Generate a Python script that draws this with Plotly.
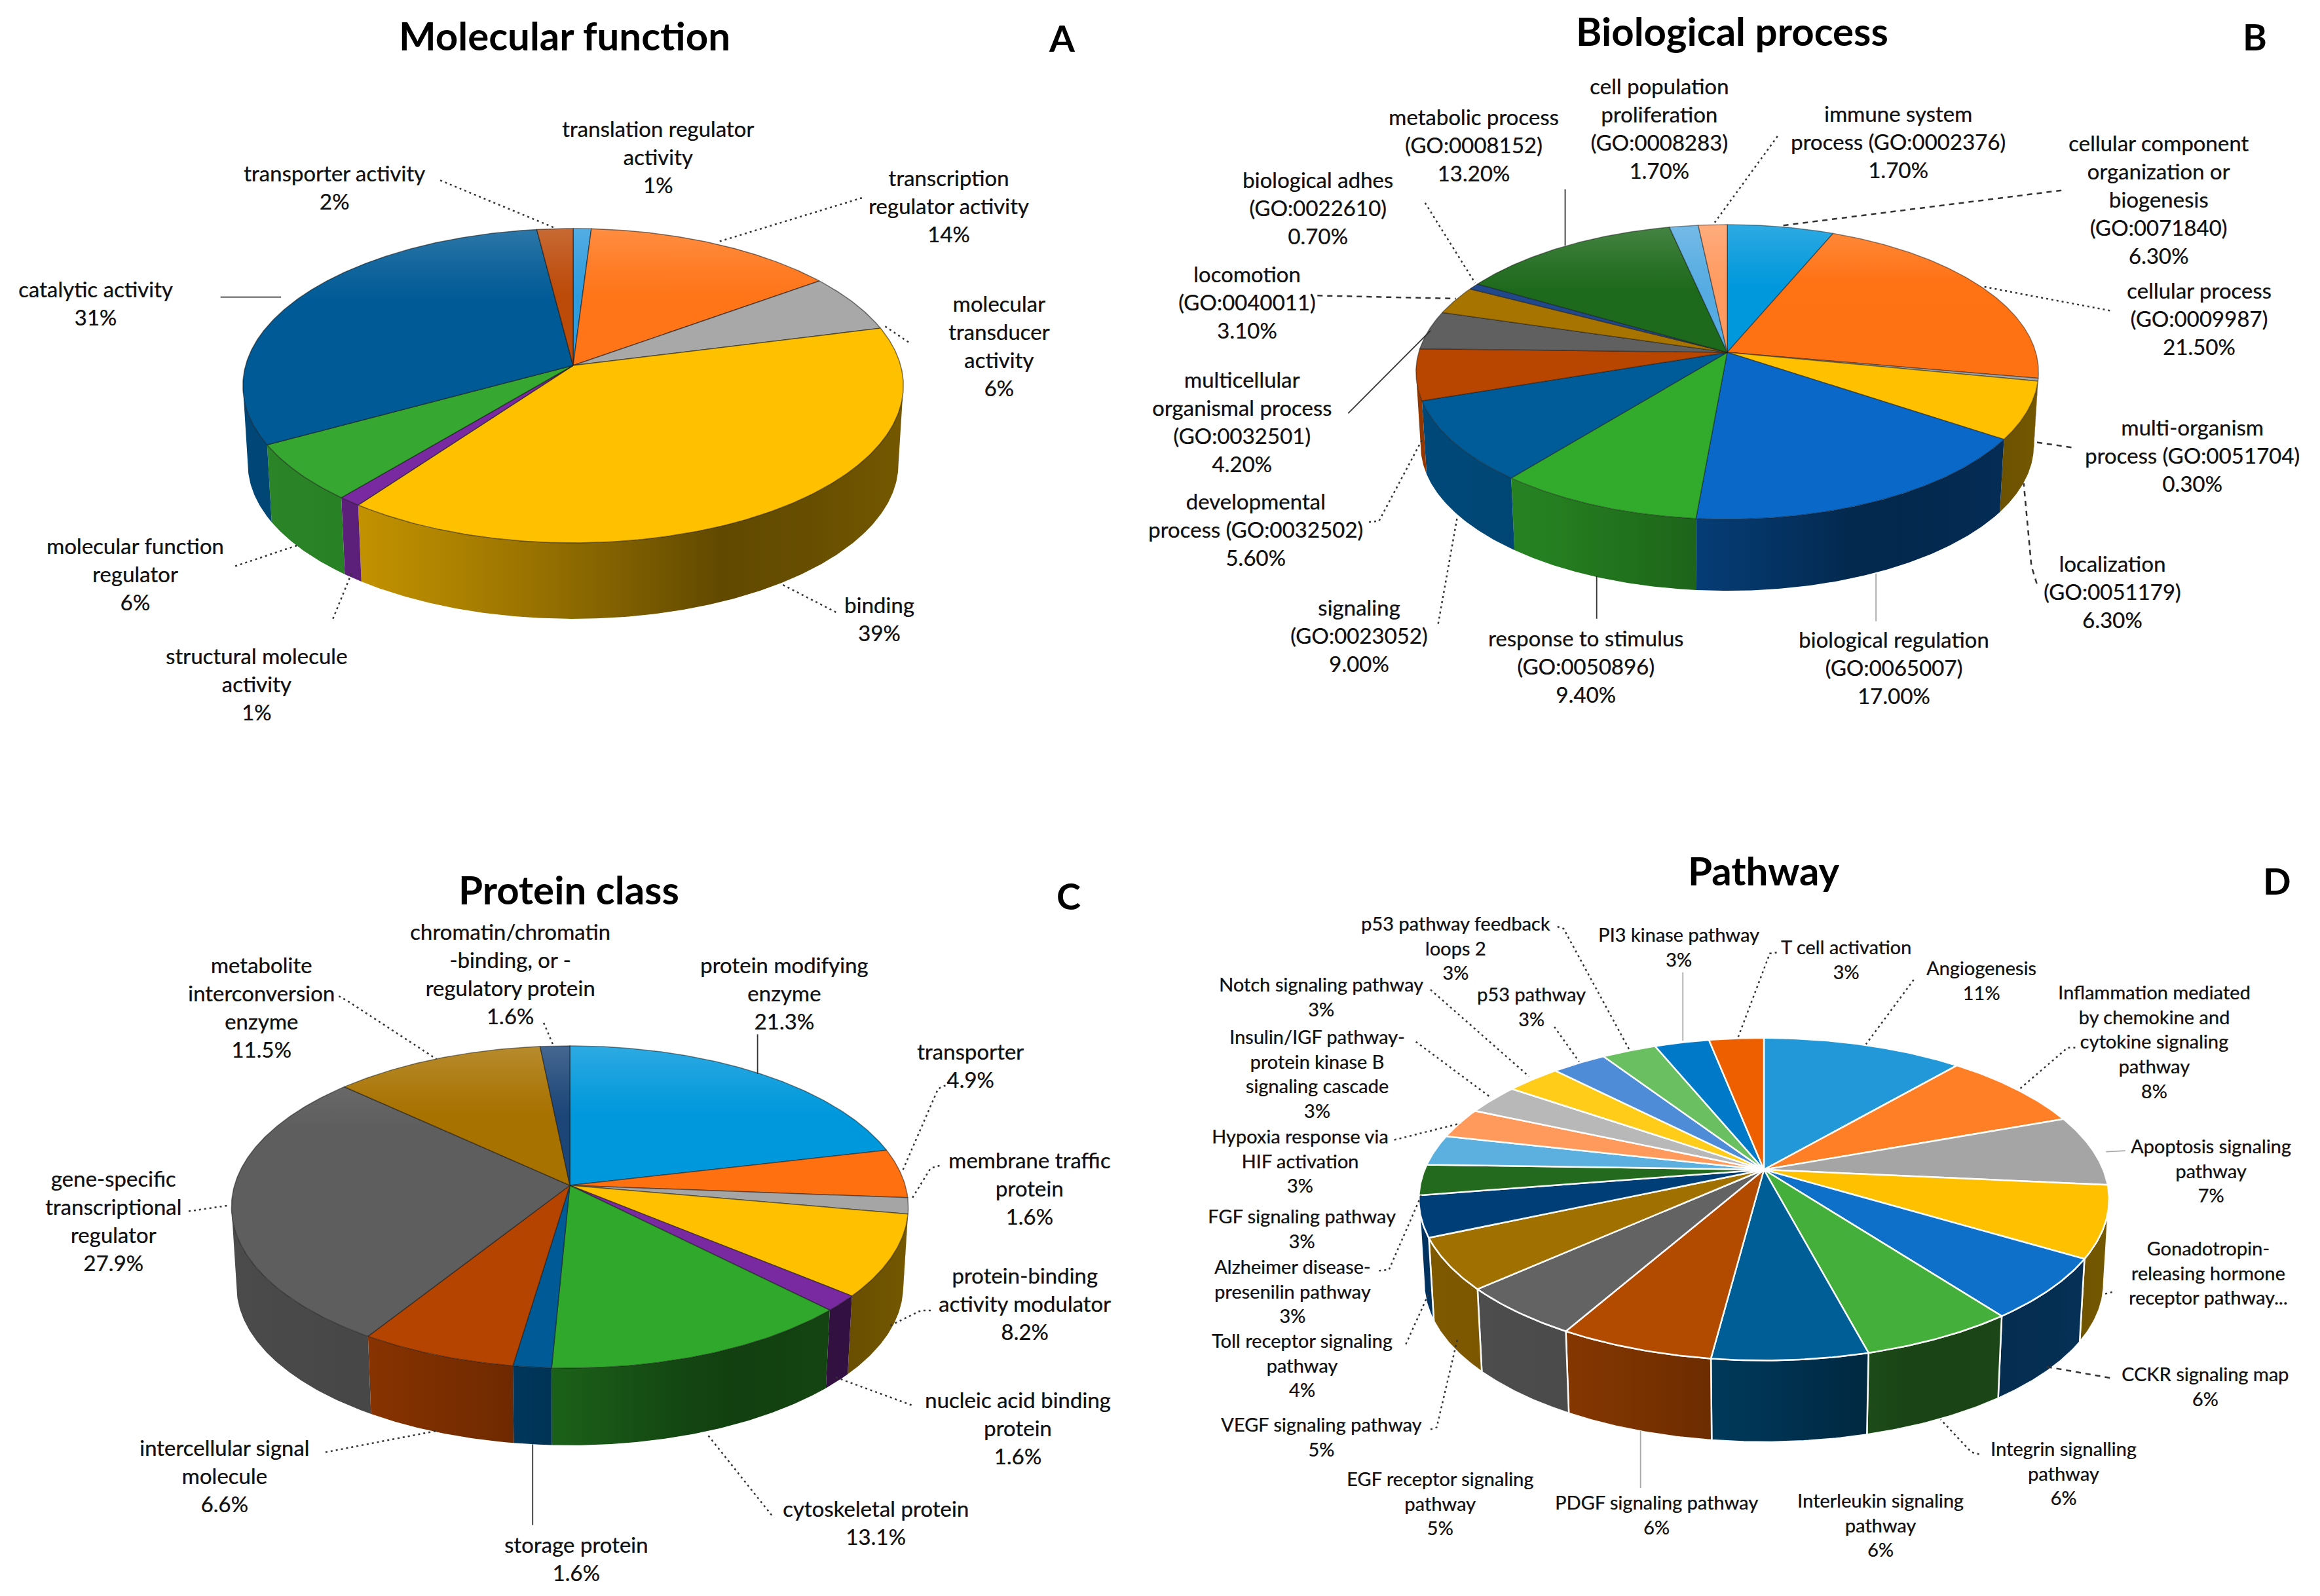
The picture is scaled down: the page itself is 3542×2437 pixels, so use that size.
import math
import plotly.graph_objects as go

# ---------- data ----------
mf_categories = ["translation regulator<br>activity", "transcription<br>regulator activity",
                 "molecular<br>transducer<br>activity", "binding", "structural molecule<br>activity",
                 "molecular function<br>regulator", "catalytic activity", "transporter activity"]
mf_values = [1, 14, 6, 39, 1, 6, 31, 2]

bp_categories = ["cellular component<br>organization or<br>biogenesis<br>(GO:0071840)",
                 "cellular process<br>(GO:0009987)", "multi-organism<br>process (GO:0051704)",
                 "localization<br>(GO:0051179)", "biological regulation<br>(GO:0065007)",
                 "response to stimulus<br>(GO:0050896)", "signaling<br>(GO:0023052)",
                 "developmental<br>process (GO:0032502)", "multicellular<br>organismal process<br>(GO:0032501)",
                 "locomotion<br>(GO:0040011)", "biological adhes<br>(GO:0022610)",
                 "metabolic process<br>(GO:0008152)", "cell population<br>proliferation<br>(GO:0008283)",
                 "immune system<br>process (GO:0002376)"]
bp_values = [6.3, 21.5, 0.3, 6.3, 17.0, 9.4, 9.0, 5.6, 4.2, 3.1, 0.7, 13.2, 1.7, 1.7]

pc_categories = ["protein modifying<br>enzyme", "transporter", "membrane traffic<br>protein",
                 "protein-binding<br>activity modulator", "nucleic acid binding<br>protein",
                 "cytoskeletal protein", "storage protein", "intercellular signal<br>molecule",
                 "gene-specific<br>transcriptional<br>regulator", "metabolite<br>interconversion<br>enzyme",
                 "chromatin/chromatin<br>-binding, or -<br>regulatory protein"]
pc_values = [21.3, 4.9, 1.6, 8.2, 1.6, 13.1, 1.6, 6.6, 27.9, 11.5, 1.6]

pw_categories = ["Angiogenesis", "Inflammation mediated<br>by chemokine and<br>cytokine signaling<br>pathway",
                 "Apoptosis signaling<br>pathway", "Gonadotropin-<br>releasing hormone<br>receptor pathway...",
                 "CCKR signaling map", "Integrin signalling<br>pathway", "Interleukin signaling<br>pathway",
                 "PDGF signaling pathway", "EGF receptor signaling<br>pathway", "VEGF signaling pathway",
                 "Toll receptor signaling<br>pathway", "Alzheimer disease-<br>presenilin pathway",
                 "FGF signaling pathway", "Hypoxia response via<br>HIF activation",
                 "Insulin/IGF pathway-<br>protein kinase B<br>signaling cascade", "Notch signaling pathway",
                 "p53 pathway", "p53 pathway feedback<br>loops 2", "PI3 kinase pathway", "T cell activation"]
pw_values = [11, 8, 7, 7, 6, 6, 6, 6, 5, 5, 4, 3, 3, 3, 3, 3, 3, 3, 3, 3]

# ---------- colours ----------
mf_colors = ["#2E9BDD", "#FF7518", "#A8A8A8", "#FFC000", "#7A2AA0", "#36A832", "#005A96", "#BC4A08"]
bp_colors = ["#0098DC", "#FF7214", "#A5A5A5", "#FFC000", "#0A68C8", "#32AA2C", "#005C98", "#B84600",
             "#606060", "#A87400", "#20488A", "#1E6A1C", "#56ACE2", "#FF9A60"]
pc_colors = ["#0098DC", "#FF7010", "#A5A5A5", "#FFC000", "#7A2AA0", "#30A82C", "#005A96", "#B44400",
             "#5E5E5E", "#A87200", "#1C4678"]
pw_colors = ["#2298D8", "#FF7F27", "#A5A5A5", "#FFC000", "#0E70C8", "#44AF3A", "#005E96", "#B24A00",
             "#636363", "#A07000", "#003E78", "#246A1E", "#5CB0E0", "#FF9A5C", "#B8B8B8", "#FFCC1A",
             "#4F8CD8", "#6ABF60", "#007AC8", "#EE5F00"]

# ---------- layout of the four panels (pixels of the page) ----------
W, H = 3542, 2437
FONT = "Lato"
panels = [
    dict(cats=mf_categories, vals=mf_values, cols=mf_colors, fmt="{:.0f}%", cx=875, cy=558, a=500, b=236, k=0.129,
         depth=120, edge="rgba(20,20,20,0.55)", ew=1.5, fs=33, ox=0, oy=0, fx=1.1295, fy=0.765,
         title="Molecular function", tpos=(763, 70), letter="A", lpos=(1436, 75)),
    dict(cats=bp_categories, vals=bp_values, cols=bp_colors, fmt="{:.2f}%", cx=2637, cy=538, a=471, b=221, k=0.133,
         depth=113, edge="rgba(20,20,20,0.45)", ew=1.5, fs=33, ox=1700, oy=0, fx=1.1747, fy=0.765,
         title="Biological process", tpos=(804, 62), letter="B", lpos=(1483, 73)),
    dict(cats=pc_categories, vals=pc_values, cols=pc_colors, fmt="{:.1f}%", cx=870, cy=1810, a=512, b=241.6, k=0.134,
         depth=122, edge="rgba(20,20,20,0.5)", ew=1.5, fs=33, ox=0, oy=1250, fx=1.1295, fy=0.757,
         title="Protein class", tpos=(769, 143), letter="C", lpos=(1444, 155)),
    dict(cats=pw_categories, vals=pw_values, cols=pw_colors, fmt="{:.0f}%", cx=2693, cy=1786, a=518, b=238, k=0.183,
         depth=129, edge="rgba(255,255,255,0.95)", ew=2.5, fs=29, ox=1700, oy=1250, fx=1.1747, fy=0.757,
         title="Pathway", tpos=(845, 105), letter="D", lpos=(1512, 125)),
]

# label centres, in panel-crop coordinates, in the same order as the categories
label_pos = [
    [(889, 312), (1282, 411), (1350, 690), (1189, 1235), (347, 1365), (183, 1145), (129, 605), (452, 373)],
    [(1358, 397), (1411, 635), (1402, 909), (1298, 1180), (1014, 1332), (614, 1330), (319, 1268), (185, 1056),
     (167, 841), (174, 602), (266, 415), (468, 289), (709, 256), (1020, 282)],
    [(1060, 351), (1312, 497), (1391, 745), (1385, 977), (1376, 1229), (1184, 1420), (779, 1492), (303, 1325),
     (153, 810), (353, 380), (690, 312)],
    [(1128, 326), (1353, 449), (1426, 709), (1423, 915), (1419, 1144), (1235, 1320), (997, 1424), (706, 1403),
     (424, 1380), (270, 1247), (245, 1102), (233, 952), (245, 826), (243, 689), (265, 514), (270, 359),
     (543, 378), (445, 260), (735, 258), (952, 283)],
]
# leader lines: (style, points) in panel-crop coordinates
leaders = [
    [("dot", [(595, 360), (750, 455)]), ("dot", [(1165, 395), (970, 483)]), ("dot", [(1228, 683), (1195, 650)]),
     ("dot", [(1130, 1222), (1055, 1165)]), ("dot", [(450, 1235), (475, 1145)]), ("dot", [(318, 1130), (405, 1087)]),
     ("solid", [(298, 593), (380, 593)])],
    [("dot", [(863, 272), (780, 447)]), ("dash", [(1232, 380), (870, 450)]), ("dot", [(1295, 620), (1130, 572)]),
     ("dash", [(1245, 893), (1200, 883)]), ("dash", [(1200, 1165), (1193, 1130), (1183, 965)]),
     ("gray", [(991, 1240), (991, 1145)]), ("solid", [(628, 1235), (628, 1150)]), ("dot", [(422, 1245), (447, 1030)]),
     ("dot", [(332, 1042), (345, 1040), (402, 875)]), ("solid", [(305, 825), (412, 660)]),
     ("dash", [(265, 590), (445, 596)]), ("dot", [(405, 405), (470, 565)]), ("solid", [(587, 378), (587, 490)])],
    [("dot", [(735, 412), (748, 458)]), ("solid", [(1024, 435), (1024, 515)]),
     ("dot", [(1278, 538), (1268, 545), (1220, 710)]), ("dot", [(1270, 700), (1258, 705), (1232, 768)]),
     ("dot", [(1258, 992), (1245, 992), (1200, 1025)]), ("dot", [(1232, 1183), (1130, 1127)]),
     ("dot", [(1043, 1405), (955, 1240)]), ("solid", [(720, 1425), (720, 1262)]), ("dot", [(440, 1278), (590, 1235)]),
     ("dot", [(255, 792), (310, 780)]), ("dot", [(458, 358), (470, 368), (590, 485)])],
    [("dot", [(862, 270), (853, 272), (812, 440)]), ("gray", [(740, 310), (740, 448)]),
     ("dot", [(577, 218), (585, 222), (670, 465)]), ("dot", [(573, 420), (605, 490)]), ("dot", [(412, 345), (540, 520)]),
     ("dot", [(393, 450), (490, 562)]), ("dot", [(365, 648), (450, 615)]), ("dot", [(345, 912), (358, 910), (400, 760)]),
     ("dot", [(380, 1060), (412, 950)]), ("dot", [(412, 1232), (420, 1228), (447, 1050)]),
     ("gray", [(685, 1350), (685, 1235)]), ("dot", [(1125, 1282), (1115, 1278), (1075, 1212)]),
     ("dash", [(1295, 1128), (1210, 1105)]), ("dot", [(1298, 955), (1285, 960)]), ("gray", [(1315, 670), (1290, 672)]),
     ("dot", [(1250, 462), (1240, 462), (1178, 545)]), ("dot", [(1040, 325), (978, 455)])],
]


def hex_rgb(c):
    return tuple(int(c[i:i + 2], 16) for i in (1, 3, 5))


def shade(c, f):
    return "rgb({},{},{})".format(*[int(min(255, v * f)) for v in hex_rgb(c)])


def tint(c, t):
    return "rgb({},{},{})".format(*[int(v + (255 - v) * t) for v in hex_rgb(c)])


def wall_factor(t):
    pts = [(0, .80), (.2, .76), (.5, .56), (.72, .38), (.93, .42), (1, .46)]
    for (a, fa), (b, fb) in zip(pts, pts[1:]):
        if t <= b:
            return fa + (fb - fa) * (t - a) / (b - a)
    return pts[-1][1]


def project(p, th, drop=0.0, s=1.0):
    u, v = math.sin(th), math.cos(th)
    d = 1 + p["k"] * v
    return p["cx"] + s * p["a"] * u / d, p["cy"] + drop - s * p["b"] * v / d


fig = go.Figure()
annotations = []
LABEL_SHADOW = "0.5px 0 0 rgba(0,0,0,0.55)"

for pi, p in enumerate(panels):
    total = sum(p["vals"])
    edges = [0.0]
    for v in p["vals"]:
        edges.append(edges[-1] + v / total * 2 * math.pi)
    xl = p["cx"] - p["a"] * 1.01
    xw = p["a"] * 2.02
    ytop = p["cy"] - p["b"] / (1 + p["k"])
    yh = p["b"] / (1 + p["k"]) + p["b"] / (1 - p["k"])
    # the wall is visible only between the two silhouette tangents of the disc
    tan_r = math.acos(-p["k"])
    tan_l = 2 * math.pi - tan_r

    # outer walls
    for i, col in enumerate(p["cols"]):
        t0 = max(edges[i], tan_r)
        t1 = min(edges[i + 1], tan_l)
        if t1 <= t0:
            continue
        n = max(4, int((t1 - t0) * 90))
        ths = [t0 + (t1 - t0) * j / n for j in range(n + 1)]
        upper = [project(p, t) for t in ths]
        lower = [project(p, t, p["depth"], 0.985) for t in reversed(ths)]
        ring = upper + lower + [upper[0]]
        xs = [q[0] for q in ring]
        ys = [q[1] for q in ring]
        lo, hi = min(xs), max(xs)
        stops = [[j / 6, shade(col, wall_factor((lo + (hi - lo) * j / 6 - xl) / xw))] for j in range(7)]
        wall_line = dict(color=p["edge"], width=p["ew"]) if pi == 3 else dict(width=0)
        fig.add_trace(go.Scatter(x=xs, y=ys, mode="lines", line=wall_line, fill="toself",
                                 fillgradient=dict(type="horizontal", colorscale=stops, start=lo, stop=hi),
                                 hoverinfo="skip", showlegend=False))

    # top faces
    for i, col in enumerate(p["cols"]):
        n = max(4, int((edges[i + 1] - edges[i]) * 90))
        ths = [edges[i] + (edges[i + 1] - edges[i]) * j / n for j in range(n + 1)]
        ring = [(p["cx"], p["cy"])] + [project(p, t) for t in ths] + [(p["cx"], p["cy"])]
        xs = [q[0] for q in ring]
        ys = [q[1] for q in ring]
        lo, hi = min(ys), max(ys)
        stops = []
        for j in range(7):
            y = lo + (hi - lo) * j / 6
            rel = (y - ytop) / yh
            strength = 0.18 if pi < 3 else 0.0
            stops.append([j / 6, tint(col, max(0.0, strength * (1 - rel / 0.2)))])
        fig.add_trace(go.Scatter(x=xs, y=ys, mode="lines", line=dict(color=p["edge"], width=p["ew"]), fill="toself",
                                 fillgradient=dict(type="vertical", colorscale=stops, start=lo, stop=hi),
                                 hoverinfo="skip", showlegend=False))

    def Z(q):
        return p["ox"] + q[0] * p["fx"], p["oy"] + q[1] * p["fy"]

    # leader lines
    for style, pts in leaders[pi]:
        xy = [Z(q) for q in pts]
        dash = {"dot": "3px,5px", "dash": "8px,7px", "solid": "solid", "gray": "solid"}[style]
        color = {"gray": "#a8a8a8"}.get(style, "#333333")
        width = 2.5 if style in ("dot", "dash") else 1.8
        fig.add_trace(go.Scatter(x=[q[0] for q in xy], y=[q[1] for q in xy], mode="lines",
                                 line=dict(color=color, width=width, dash=dash), hoverinfo="skip", showlegend=False))

    # data labels
    for cat, val, pos in zip(p["cats"], p["vals"], label_pos[pi]):
        text = cat if cat.endswith("...") else cat + "<br>" + p["fmt"].format(val)
        x, y = Z(pos)
        annotations.append(dict(x=x, y=y, text=text, showarrow=False, xanchor="center", yanchor="middle",
                                align="center",
                                font=dict(family=FONT, size=p["fs"], color="#111111", shadow=LABEL_SHADOW)))
    # titles
    x, y = Z(p["tpos"])
    annotations.append(dict(x=x, y=y, text="<b>" + p["title"] + "</b>", showarrow=False, xanchor="center",
                            yanchor="middle", font=dict(family=FONT, size=60, color="#000000")))
    x, y = Z(p["lpos"])
    annotations.append(dict(x=x, y=y, text="<b>" + p["letter"] + "</b>", showarrow=False, xanchor="center",
                            yanchor="middle", font=dict(family=FONT, size=56, color="#000000")))

fig.update_layout(
    width=W, height=H, margin=dict(l=0, r=0, t=0, b=0), paper_bgcolor="white", plot_bgcolor="white",
    xaxis=dict(range=[0, W], visible=False, fixedrange=True),
    yaxis=dict(range=[H, 0], visible=False, fixedrange=True),
    annotations=annotations, showlegend=False,
)
fig.write_html("out.html", config=dict(displayModeBar=False),
               post_script="document.body.style.margin='0';document.body.style.overflow='hidden';")
